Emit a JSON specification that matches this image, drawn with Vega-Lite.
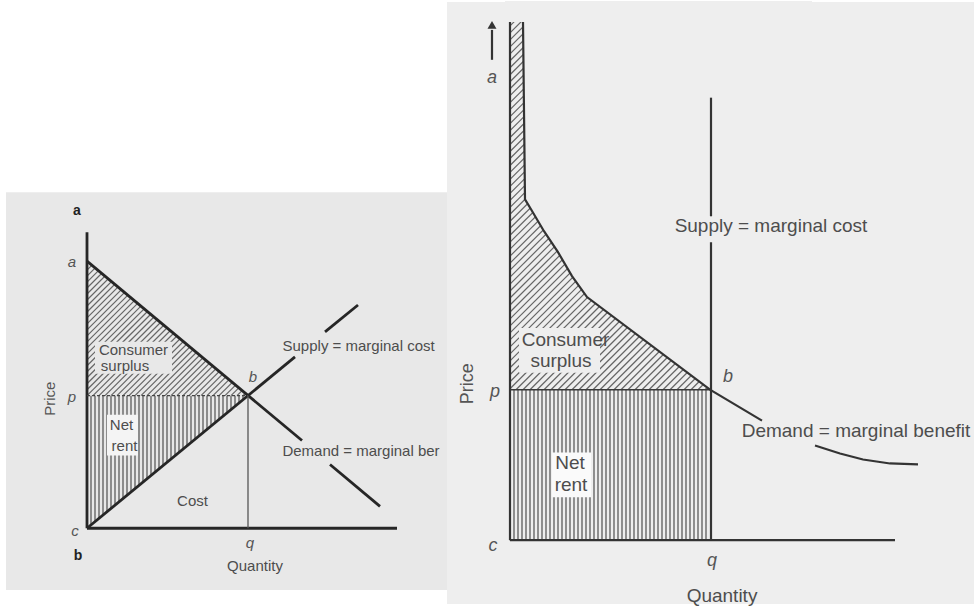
{
  "$schema": "https://vega.github.io/schema/vega-lite/v6.json",
  "width": 974,
  "height": 606,
  "padding": 0,
  "autosize": {"type": "fit", "contains": "padding"},
  "background": "#ffffff",
  "config": {"view": {"stroke": null}, "text": {"font": "Liberation Sans"}},
  "encoding": {
    "x": {"field": "x", "type": "quantitative", "scale": {"domain": [0, 974], "nice": false, "zero": false}, "axis": null},
    "y": {"field": "y", "type": "quantitative", "scale": {"domain": [0, 606], "nice": false, "zero": false, "reverse": true}, "axis": null}
  },
  "layer": [
    {"data": {"values": [{"x": 6, "x2": 447, "y": 193, "y2": 592}]},
     "mark": {"type": "rect", "fill": "#e8e8e8"},
     "encoding": {"x2": {"field": "x2"}, "y2": {"field": "y2"}}},
    {"data": {"values": [{"x":91,"y":397,"y2":530},{"x":95,"y":397,"y2":530},{"x":99,"y":397,"y2":530},{"x":103,"y":397,"y2":530},{"x":107,"y":397,"y2":530},{"x":111,"y":397,"y2":530},{"x":115,"y":397,"y2":530},{"x":119,"y":397,"y2":530},{"x":123,"y":397,"y2":530},{"x":127,"y":397,"y2":530},{"x":131,"y":397,"y2":530},{"x":135,"y":397,"y2":530},{"x":139,"y":397,"y2":530},{"x":143,"y":397,"y2":530},{"x":147,"y":397,"y2":530},{"x":151,"y":397,"y2":530},{"x":155,"y":397,"y2":530},{"x":159,"y":397,"y2":530},{"x":163,"y":397,"y2":530},{"x":167,"y":397,"y2":530},{"x":171,"y":397,"y2":530},{"x":175,"y":397,"y2":530},{"x":179,"y":397,"y2":530},{"x":183,"y":397,"y2":530},{"x":187,"y":397,"y2":530},{"x":191,"y":397,"y2":530},{"x":195,"y":397,"y2":530},{"x":199,"y":397,"y2":530},{"x":203,"y":397,"y2":530},{"x":207,"y":397,"y2":530},{"x":211,"y":397,"y2":530},{"x":215,"y":397,"y2":530},{"x":219,"y":397,"y2":530},{"x":223,"y":397,"y2":530},{"x":227,"y":397,"y2":530},{"x":231,"y":397,"y2":530},{"x":235,"y":397,"y2":530},{"x":239,"y":397,"y2":530},{"x":243,"y":397,"y2":530}]},
     "mark": {"type": "rule", "stroke": "#666666", "strokeWidth": 1.4},
     "encoding": {"y2": {"field": "y2"}}},
    {"data": {"values": [
      {"x":87,"y":265,"x2":152,"y2":200},{"x":87,"y":271,"x2":158,"y2":200},{"x":87,"y":277,"x2":164,"y2":200},
      {"x":87,"y":283,"x2":167,"y2":203},{"x":87,"y":289,"x2":167,"y2":209},{"x":87,"y":295,"x2":167,"y2":215},
      {"x":87,"y":301,"x2":167,"y2":221},{"x":87,"y":307,"x2":167,"y2":227},{"x":87,"y":313,"x2":167,"y2":233},
      {"x":87,"y":319,"x2":167,"y2":239},{"x":87,"y":325,"x2":167,"y2":245},{"x":87,"y":331,"x2":167,"y2":251},
      {"x":87,"y":337,"x2":167,"y2":257},{"x":87,"y":343,"x2":167,"y2":263},{"x":87,"y":349,"x2":167,"y2":269},
      {"x":87,"y":355,"x2":167,"y2":275},{"x":87,"y":361,"x2":167,"y2":281},{"x":87,"y":367,"x2":167,"y2":287},
      {"x":87,"y":373,"x2":167,"y2":293},{"x":87,"y":379,"x2":167,"y2":299},{"x":87,"y":385,"x2":167,"y2":305},
      {"x":87,"y":391,"x2":167,"y2":311},{"x":87,"y":397,"x2":167,"y2":317},
      {"x":93,"y":397,"x2":173,"y2":317},{"x":99,"y":397,"x2":179,"y2":317},{"x":105,"y":397,"x2":185,"y2":317},
      {"x":111,"y":397,"x2":191,"y2":317},{"x":117,"y":397,"x2":197,"y2":317},{"x":123,"y":397,"x2":203,"y2":317},
      {"x":129,"y":397,"x2":209,"y2":317},{"x":135,"y":397,"x2":215,"y2":317},{"x":141,"y":397,"x2":221,"y2":317},
      {"x":147,"y":397,"x2":227,"y2":317},{"x":153,"y":397,"x2":233,"y2":317},{"x":159,"y":397,"x2":239,"y2":317},
      {"x":165,"y":397,"x2":245,"y2":317},{"x":171,"y":397,"x2":251,"y2":317},{"x":177,"y":397,"x2":257,"y2":317},
      {"x":183,"y":397,"x2":263,"y2":317},{"x":189,"y":397,"x2":269,"y2":317},{"x":195,"y":397,"x2":275,"y2":317},
      {"x":201,"y":397,"x2":281,"y2":317},{"x":207,"y":397,"x2":287,"y2":317},{"x":213,"y":397,"x2":293,"y2":317},
      {"x":219,"y":397,"x2":299,"y2":317},{"x":225,"y":397,"x2":305,"y2":317},{"x":231,"y":397,"x2":311,"y2":317},
      {"x":237,"y":397,"x2":317,"y2":317},{"x":243,"y":397,"x2":323,"y2":317}]},
     "mark": {"type": "rule", "stroke": "#666666", "strokeWidth": 1.2},
     "encoding": {"x2": {"field": "x2"}, "y2": {"field": "y2"}}},
    {"data": {"values": [{"x": 87, "y": 262, "y2": 194}, {"x": 330, "y": 465.8, "y2": 194}]},
     "mark": {"type": "area", "fill": "#e8e8e8"},
     "encoding": {"y2": {"field": "y2"}}},
    {"data": {"values": [{"x": 87, "y": 530, "y2": 530}, {"x": 248, "y": 397, "y2": 530}]},
     "mark": {"type": "area", "fill": "#e8e8e8"},
     "encoding": {"y2": {"field": "y2"}}},
    {"data": {"values": [{"x": 95, "x2": 172, "y": 343, "y2": 375}]},
     "mark": {"type": "rect", "fill": "#e8e8e8"},
     "encoding": {"x2": {"field": "x2"}, "y2": {"field": "y2"}}},
    {"data": {"values": [{"x": 107, "x2": 138, "y": 416, "y2": 457}]},
     "mark": {"type": "rect", "fill": "#f4f4f4"},
     "encoding": {"x2": {"field": "x2"}, "y2": {"field": "y2"}}},
    {"data": {"values": [
      {"x":87,"y":233,"x2":87,"y2":530},{"x":87,"y":530,"x2":397,"y2":530},
      {"x":87,"y":262,"x2":302,"y2":442},{"x":330,"y":466,"x2":380,"y2":508},
      {"x":87,"y":530,"x2":295,"y2":358},{"x":325,"y":333,"x2":358,"y2":306}]},
     "mark": {"type": "rule", "stroke": "#262626", "strokeWidth": 2.8},
     "encoding": {"x2": {"field": "x2"}, "y2": {"field": "y2"}}},
    {"data": {"values": [{"x":87,"y":397,"x2":248,"y2":397}]},
     "mark": {"type": "rule", "stroke": "#444444", "strokeWidth": 1.3, "strokeDash": [3, 2]},
     "encoding": {"x2": {"field": "x2"}, "y2": {"field": "y2"}}},
    {"data": {"values": [{"x":248,"y":397,"x2":248,"y2":530}]},
     "mark": {"type": "rule", "stroke": "#555555", "strokeWidth": 1.3},
     "encoding": {"x2": {"field": "x2"}, "y2": {"field": "y2"}}},
    {"data": {"values": [
      {"x":133.5,"y":351,"t":"Consumer"},{"x":125,"y":367,"t":"surplus"},
      {"x":121.5,"y":426,"t":"Net"},{"x":124.5,"y":447,"t":"rent"},
      {"x":192.5,"y":503,"t":"Cost"},
      {"x":358.6,"y":347,"t":"Supply = marginal cost"},
      {"x":361,"y":452,"t":"Demand = marginal ber"},
      {"x":255,"y":568,"t":"Quantity"}]},
     "mark": {"type": "text", "fontSize": 15, "color": "#4d4d4d", "baseline": "middle", "align": "center"},
     "encoding": {"text": {"field": "t"}}},
    {"data": {"values": [
      {"x":72,"y":263,"t":"a"},{"x":72,"y":398,"t":"p"},{"x":75,"y":533,"t":"c"},
      {"x":250,"y":545,"t":"q"},{"x":253,"y":378,"t":"b"}]},
     "mark": {"type": "text", "fontSize": 15, "fontStyle": "italic", "color": "#555555", "baseline": "middle", "align": "center"},
     "encoding": {"text": {"field": "t"}}},
    {"data": {"values": [{"x":77,"y":212,"t":"a"},{"x":78,"y":558,"t":"b"}]},
     "mark": {"type": "text", "fontSize": 14, "fontWeight": "bold", "color": "#222222", "baseline": "middle", "align": "center"},
     "encoding": {"text": {"field": "t"}}},
    {"data": {"values": [{"x":50,"y":400,"t":"Price"}]},
     "mark": {"type": "text", "fontSize": 15, "angle": 270, "color": "#555555", "baseline": "middle", "align": "center"},
     "encoding": {"text": {"field": "t"}}},

    {"data": {"values": [{"x": 447, "x2": 974, "y": 2, "y2": 606}]},
     "mark": {"type": "rect", "fill": "#eeeeee"},
     "encoding": {"x2": {"field": "x2"}, "y2": {"field": "y2"}}},
    {"data": {"values": [{"x":514,"y":391,"y2":542},{"x":518,"y":391,"y2":542},{"x":522,"y":391,"y2":542},{"x":526,"y":391,"y2":542},{"x":530,"y":391,"y2":542},{"x":534,"y":391,"y2":542},{"x":538,"y":391,"y2":542},{"x":542,"y":391,"y2":542},{"x":546,"y":391,"y2":542},{"x":550,"y":391,"y2":542},{"x":554,"y":391,"y2":542},{"x":558,"y":391,"y2":542},{"x":562,"y":391,"y2":542},{"x":566,"y":391,"y2":542},{"x":570,"y":391,"y2":542},{"x":574,"y":391,"y2":542},{"x":578,"y":391,"y2":542},{"x":582,"y":391,"y2":542},{"x":586,"y":391,"y2":542},{"x":590,"y":391,"y2":542},{"x":594,"y":391,"y2":542},{"x":598,"y":391,"y2":542},{"x":602,"y":391,"y2":542},{"x":606,"y":391,"y2":542},{"x":610,"y":391,"y2":542},{"x":614,"y":391,"y2":542},{"x":618,"y":391,"y2":542},{"x":622,"y":391,"y2":542},{"x":626,"y":391,"y2":542},{"x":630,"y":391,"y2":542},{"x":634,"y":391,"y2":542},{"x":638,"y":391,"y2":542},{"x":642,"y":391,"y2":542},{"x":646,"y":391,"y2":542},{"x":650,"y":391,"y2":542},{"x":654,"y":391,"y2":542},{"x":658,"y":391,"y2":542},{"x":662,"y":391,"y2":542},{"x":666,"y":391,"y2":542},{"x":670,"y":391,"y2":542},{"x":674,"y":391,"y2":542},{"x":678,"y":391,"y2":542},{"x":682,"y":391,"y2":542},{"x":686,"y":391,"y2":542},{"x":690,"y":391,"y2":542},{"x":694,"y":391,"y2":542},{"x":698,"y":391,"y2":542},{"x":702,"y":391,"y2":542},{"x":706,"y":391,"y2":542}]},
     "mark": {"type": "rule", "stroke": "#666666", "strokeWidth": 1.4},
     "encoding": {"y2": {"field": "y2"}}},
    {"data": {"values": [
      {"x":510,"y":26,"x2":534,"y2":2},{"x":510,"y":33,"x2":541,"y2":2},{"x":510,"y":40,"x2":548,"y2":2},
      {"x":510,"y":47,"x2":555,"y2":2},{"x":510,"y":54,"x2":562,"y2":2},{"x":510,"y":61,"x2":569,"y2":2},
      {"x":510,"y":68,"x2":576,"y2":2},{"x":510,"y":75,"x2":583,"y2":2},{"x":510,"y":82,"x2":590,"y2":2},
      {"x":510,"y":89,"x2":597,"y2":2},{"x":510,"y":96,"x2":604,"y2":2},
      {"x":510,"y":103,"x2":610,"y2":3},{"x":510,"y":110,"x2":610,"y2":10},{"x":510,"y":117,"x2":610,"y2":17},
      {"x":510,"y":124,"x2":610,"y2":24},{"x":510,"y":131,"x2":610,"y2":31},{"x":510,"y":138,"x2":610,"y2":38},
      {"x":510,"y":145,"x2":610,"y2":45},{"x":510,"y":152,"x2":610,"y2":52},{"x":510,"y":159,"x2":610,"y2":59},
      {"x":510,"y":166,"x2":610,"y2":66},{"x":510,"y":173,"x2":610,"y2":73},{"x":510,"y":180,"x2":610,"y2":80},
      {"x":510,"y":187,"x2":610,"y2":87},{"x":510,"y":194,"x2":610,"y2":94},{"x":510,"y":201,"x2":610,"y2":101},
      {"x":510,"y":208,"x2":610,"y2":108},{"x":510,"y":215,"x2":610,"y2":115},{"x":510,"y":222,"x2":610,"y2":122},
      {"x":510,"y":229,"x2":610,"y2":129},{"x":510,"y":236,"x2":610,"y2":136},{"x":510,"y":243,"x2":610,"y2":143},
      {"x":510,"y":250,"x2":610,"y2":150},{"x":510,"y":257,"x2":610,"y2":157},{"x":510,"y":264,"x2":610,"y2":164},
      {"x":510,"y":271,"x2":610,"y2":171},{"x":510,"y":278,"x2":610,"y2":178},{"x":510,"y":285,"x2":610,"y2":185},
      {"x":510,"y":292,"x2":610,"y2":192},{"x":510,"y":299,"x2":610,"y2":199},{"x":510,"y":306,"x2":610,"y2":206},
      {"x":510,"y":313,"x2":610,"y2":213},{"x":510,"y":320,"x2":610,"y2":220},{"x":510,"y":327,"x2":610,"y2":227},
      {"x":510,"y":334,"x2":610,"y2":234},{"x":510,"y":341,"x2":610,"y2":241},{"x":510,"y":348,"x2":610,"y2":248},
      {"x":510,"y":355,"x2":610,"y2":255},{"x":510,"y":362,"x2":610,"y2":262},{"x":510,"y":369,"x2":610,"y2":269},
      {"x":510,"y":376,"x2":610,"y2":276},{"x":510,"y":383,"x2":610,"y2":283},{"x":510,"y":390,"x2":610,"y2":290},
      {"x":516,"y":391,"x2":616,"y2":291},{"x":523,"y":391,"x2":623,"y2":291},{"x":530,"y":391,"x2":630,"y2":291},
      {"x":537,"y":391,"x2":637,"y2":291},{"x":544,"y":391,"x2":644,"y2":291},{"x":551,"y":391,"x2":651,"y2":291},
      {"x":558,"y":391,"x2":658,"y2":291},{"x":565,"y":391,"x2":665,"y2":291},{"x":572,"y":391,"x2":672,"y2":291},
      {"x":579,"y":391,"x2":679,"y2":291},{"x":586,"y":391,"x2":686,"y2":291},{"x":593,"y":391,"x2":693,"y2":291},
      {"x":600,"y":391,"x2":700,"y2":291},{"x":607,"y":391,"x2":707,"y2":291},{"x":614,"y":391,"x2":714,"y2":291},
      {"x":621,"y":391,"x2":721,"y2":291},{"x":628,"y":391,"x2":728,"y2":291},{"x":635,"y":391,"x2":735,"y2":291},
      {"x":642,"y":391,"x2":742,"y2":291},{"x":649,"y":391,"x2":749,"y2":291},{"x":656,"y":391,"x2":756,"y2":291},
      {"x":663,"y":391,"x2":763,"y2":291},{"x":670,"y":391,"x2":770,"y2":291},{"x":677,"y":391,"x2":777,"y2":291},
      {"x":684,"y":391,"x2":784,"y2":291},{"x":691,"y":391,"x2":791,"y2":291},{"x":698,"y":391,"x2":798,"y2":291},
      {"x":705,"y":391,"x2":805,"y2":291}]},
     "mark": {"type": "rule", "stroke": "#666666", "strokeWidth": 1.2},
     "encoding": {"x2": {"field": "x2"}, "y2": {"field": "y2"}}},
    {"data": {"values": [
      {"x":505,"y":22,"y2":1},{"x":523,"y":22,"y2":1},{"x":525,"y":200,"y2":1},{"x":531,"y":210,"y2":1},
      {"x":544,"y":232,"y2":1},{"x":558,"y":253,"y2":1},{"x":572,"y":277,"y2":1},{"x":587,"y":298,"y2":1},
      {"x":710,"y":391,"y2":1},{"x":712,"y":395,"y2":1},{"x":812,"y":395,"y2":1}]},
     "mark": {"type": "area", "fill": "#eeeeee"},
     "encoding": {"y2": {"field": "y2"}}},
    {"data": {"values": [{"x": 519, "x2": 600, "y": 329, "y2": 374}]},
     "mark": {"type": "rect", "fill": "#eeeeee"},
     "encoding": {"x2": {"field": "x2"}, "y2": {"field": "y2"}}},
    {"data": {"values": [{"x": 552, "x2": 591, "y": 454, "y2": 499}]},
     "mark": {"type": "rect", "fill": "#fafafa"},
     "encoding": {"x2": {"field": "x2"}, "y2": {"field": "y2"}}},
    {"data": {"values": [
      {"x":510,"y":22,"x2":510,"y2":542},{"x":510,"y":542,"x2":895,"y2":542},
      {"x":711,"y":98,"x2":711,"y2":217},{"x":711,"y":243,"x2":711,"y2":542},
      {"x":492,"y":60,"x2":492,"y2":30}]},
     "mark": {"type": "rule", "stroke": "#333333", "strokeWidth": 2.2},
     "encoding": {"x2": {"field": "x2"}, "y2": {"field": "y2"}}},
    {"data": {"values": [{"x":510,"y":391,"x2":711,"y2":391}]},
     "mark": {"type": "rule", "stroke": "#3a3a3a", "strokeWidth": 1.5},
     "encoding": {"x2": {"field": "x2"}, "y2": {"field": "y2"}}},
    {"data": {"values": [
      {"s":"a","o":1,"x":523,"y":22},{"s":"a","o":2,"x":525,"y":200},{"s":"a","o":3,"x":531,"y":210},
      {"s":"a","o":4,"x":544,"y":232},{"s":"a","o":5,"x":558,"y":253},{"s":"a","o":6,"x":572,"y":277},
      {"s":"a","o":7,"x":587,"y":298},{"s":"a","o":8,"x":710,"y":391},{"s":"a","o":9,"x":762,"y":422},
      {"s":"b","o":1,"x":815,"y":447},{"s":"b","o":2,"x":840,"y":455},{"s":"b","o":3,"x":863,"y":461},
      {"s":"b","o":4,"x":890,"y":465},{"s":"b","o":5,"x":918,"y":466}]},
     "mark": {"type": "line", "stroke": "#333333", "strokeWidth": 2.2},
     "encoding": {"detail": {"field": "s"}, "order": {"field": "o", "type": "quantitative"}}},
    {"data": {"values": [{"x":492,"y":25}]},
     "mark": {"type": "point", "shape": "triangle-up", "filled": true, "size": 80, "color": "#333333", "opacity": 1}},
    {"data": {"values": [
      {"x":565.5,"y":341,"t":"Consumer"},{"x":561,"y":362,"t":"surplus"},
      {"x":570,"y":465,"t":"Net"},{"x":571,"y":487,"t":"rent"},
      {"x":771,"y":227,"t":"Supply = marginal cost"},
      {"x":856,"y":432,"t":"Demand = marginal benefit"},
      {"x":722,"y":598,"t":"Quantity"}]},
     "mark": {"type": "text", "fontSize": 19, "color": "#4d4d4d", "baseline": "middle", "align": "center"},
     "encoding": {"text": {"field": "t"}}},
    {"data": {"values": [
      {"x":492,"y":78,"t":"a"},{"x":495,"y":393,"t":"p"},{"x":493,"y":548,"t":"c"},
      {"x":712,"y":563,"t":"q"},{"x":728,"y":378,"t":"b"}]},
     "mark": {"type": "text", "fontSize": 18, "fontStyle": "italic", "color": "#555555", "baseline": "middle", "align": "center"},
     "encoding": {"text": {"field": "t"}}},
    {"data": {"values": [{"x":468,"y":385,"t":"Price"}]},
     "mark": {"type": "text", "fontSize": 18, "angle": 270, "color": "#555555", "baseline": "middle", "align": "center"},
     "encoding": {"text": {"field": "t"}}}
  ]
}
